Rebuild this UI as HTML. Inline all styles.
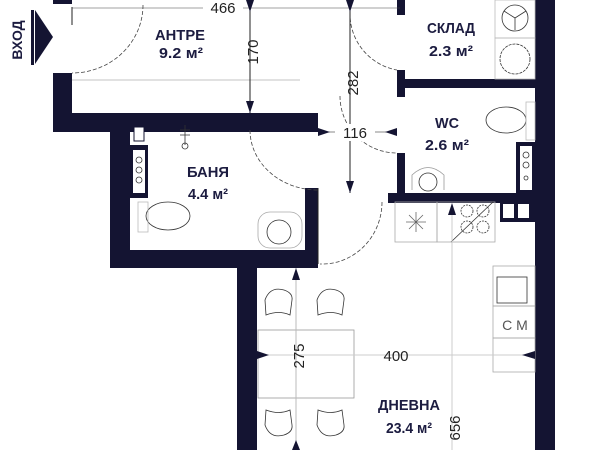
<!DOCTYPE html><html><head><style>html,body{margin:0;padding:0;background:#fff;}svg{display:block}</style></head><body>
<svg width="600" height="450" viewBox="0 0 600 450" xmlns="http://www.w3.org/2000/svg" font-family="Liberation Sans, sans-serif">
<g fill="#141432">
<rect x="53" y="0" width="19" height="4"/>
<rect x="53" y="73" width="19" height="59"/>
<rect x="53" y="113" width="265" height="19"/>
<rect x="110" y="113" width="20" height="155"/>
<rect x="110" y="250" width="208" height="18"/>
<rect x="305" y="188" width="13" height="80"/>
<rect x="237" y="250" width="20" height="200"/>
<rect x="397" y="0" width="8" height="15"/>
<rect x="397" y="70" width="8" height="27"/>
<rect x="397" y="79" width="140" height="9"/>
<rect x="397" y="153" width="8" height="48"/>
<rect x="388" y="193" width="149" height="10"/>
<rect x="535" y="0" width="20" height="450"/>
<rect x="130" y="145" width="18" height="53"/>
<rect x="516" y="142" width="20" height="52"/>
<rect x="500" y="200" width="35" height="22"/>
<polygon points="35,10 53,37 35,64"/>
<rect x="31" y="10" width="3" height="55"/>
</g>
<g fill="#fff">
<rect x="134" y="127" width="10" height="14" stroke="#141432" stroke-width="1"/>
<rect x="133" y="150" width="12" height="43"/>
<rect x="520" y="146" width="12" height="44"/>
<rect x="503" y="204" width="11" height="14"/><rect x="518" y="204" width="11" height="14"/>
</g>
<g fill="none" stroke="#333" stroke-width="0.8">
<circle cx="139" cy="160" r="3"/><circle cx="139" cy="170" r="3"/><circle cx="139" cy="180" r="3"/>
<circle cx="526" cy="155" r="3"/><circle cx="526" cy="165" r="3"/><circle cx="526" cy="178" r="2"/>
<rect x="495" y="0" width="40" height="38" stroke="#bbb"/><rect x="495" y="38" width="40" height="41" stroke="#bbb"/>
<circle cx="515" cy="18" r="13"/><path d="M515,18 L515,30 M515,18 L504,11 M515,18 L526,11"/>
<circle cx="515" cy="59" r="15" stroke-dasharray="3 1"/>
<ellipse cx="506" cy="120" rx="20" ry="13"/><rect x="526" y="102" width="9" height="38" stroke="#bbb"/>
<path d="M412,190 L412,175 Q428,160 444,175 L444,190" stroke="#999"/><circle cx="428" cy="182" r="9"/>
<ellipse cx="168" cy="216" rx="22" ry="14"/><rect x="138" y="202" width="10" height="30" stroke="#bbb"/>
<rect x="258" y="212" width="44" height="36" rx="12" stroke="#aaa"/><circle cx="279" cy="232" r="12"/>
<path d="M185,125 L185,145 M180,130 L190,130 M180,135 L190,135"/><circle cx="185" cy="146" r="3"/>
<rect x="395" y="202" width="42" height="40" stroke="#aaa"/><rect x="437" y="202" width="58" height="40" stroke="#aaa"/>
<path d="M416,212 L416,232 M406,222 L426,222 M409,215 L423,229 M423,215 L409,229" stroke="#666"/>
<circle cx="467" cy="211" r="6" stroke-dasharray="2 1"/><circle cx="483" cy="211" r="6" stroke-dasharray="2 1"/><circle cx="467" cy="227" r="6" stroke-dasharray="2 1"/><circle cx="483" cy="227" r="6" stroke-dasharray="2 1"/>
<path d="M451,242 L493,202"/>
<rect x="493" y="266" width="42" height="40" stroke="#aaa"/><rect x="497" y="277" width="30" height="26"/>
<rect x="493" y="306" width="42" height="32" stroke="#aaa"/><rect x="493" y="338" width="42" height="34" stroke="#aaa"/>
<rect x="258" y="330" width="96" height="68" stroke="#999"/>
<path d="M266,315 L265,300 Q270,286 284,290 Q293,293 292,300 L290,315 Q279,310 266,315 Z"/>
<path d="M318,315 L317,300 Q322,286 336,290 Q345,293 344,300 L342,315 Q331,310 318,315 Z"/>
<path d="M266,410 L265,425 Q270,439 284,435 Q293,432 292,425 L290,410 Q279,415 266,410 Z"/>
<path d="M318,410 L317,425 Q322,439 336,435 Q345,432 344,425 L342,410 Q331,415 318,410 Z"/>
</g>
<g fill="none" stroke="#444" stroke-width="0.8" stroke-dasharray="4 2">
<path d="M143,5 A71,68 0 0 1 72,73"/>
<path d="M350,12 A57,57 0 0 0 397,70"/>
<path d="M340,96 A57,57 0 0 0 397,153"/>
<path d="M250,130 A68,60 0 0 0 318,190"/>
<path d="M382,202 A60,62 0 0 1 320,264"/>
</g>
<g stroke="#222" stroke-width="1" fill="none">
<path d="M72,7 L72,25"/><path d="M318,188 L318,264"/>
<line x1="72" y1="80" x2="300" y2="80" stroke="#888" stroke-width="0.6"/>
<line x1="250" y1="0" x2="250" y2="113"/>
<line x1="350" y1="0" x2="350" y2="193"/>
<line x1="318" y1="132" x2="397" y2="132" stroke="#888"/>
<line x1="296" y1="268" x2="296" y2="450" stroke="#bbb"/>
<line x1="257" y1="355" x2="535" y2="355" stroke="#ccc"/>
<line x1="452" y1="205" x2="452" y2="450" stroke="#ccc"/>
<line x1="72" y1="8" x2="400" y2="8" stroke="#444" stroke-width="0.6"/>
</g>
<g fill="#141432">
<polygon points="246,0 254,0 250,12"/><polygon points="246,101 254,101 250,113"/>
<polygon points="346,0 354,0 350,12"/><polygon points="346,181 354,181 350,193"/>
<polygon points="318,128 318,136 330,132"/><polygon points="397,128 397,136 385,132"/>
<polygon points="292,280 300,280 296,268"/><polygon points="292,450 300,450 296,440"/>
<polygon points="257,351 257,359 269,355"/><polygon points="535,351 535,359 522,355"/>
<polygon points="448,215 456,215 452,203"/>
</g>
<g fill="#1c1c40" font-weight="bold" font-size="15" text-anchor="middle">
<text x="180" y="40" textLength="50" lengthAdjust="spacingAndGlyphs">АНТРЕ</text><text x="181" y="58" textLength="44" lengthAdjust="spacingAndGlyphs">9.2 м²</text>
<text x="451" y="33" textLength="48" lengthAdjust="spacingAndGlyphs">СКЛАД</text><text x="451" y="56" textLength="44" lengthAdjust="spacingAndGlyphs">2.3 м²</text>
<text x="447" y="128" textLength="24" lengthAdjust="spacingAndGlyphs">WC</text><text x="447" y="150" textLength="44" lengthAdjust="spacingAndGlyphs">2.6 м²</text>
<text x="208" y="177" textLength="42" lengthAdjust="spacingAndGlyphs">БАНЯ</text><text x="208" y="199" textLength="40" lengthAdjust="spacingAndGlyphs">4.4 м²</text>
<text x="409" y="410" textLength="62" lengthAdjust="spacingAndGlyphs">ДНЕВНА</text><text x="409" y="433" textLength="46" lengthAdjust="spacingAndGlyphs">23.4 м²</text>
<text transform="translate(22,40) rotate(-90)" font-size="14">ВХОД</text>
</g>
<g fill="#222" font-size="15" text-anchor="middle">
<rect x="203" y="0" width="40" height="16" fill="#fff"/>
<text x="223" y="13">466</text>
<text transform="translate(258,52) rotate(-90)">170</text>
<text transform="translate(358,83) rotate(-90)">282</text>
<rect x="335" y="124" width="40" height="17" fill="#fff"/><text x="355" y="138">116</text>
<text transform="translate(304,356) rotate(-90)">275</text>
<text x="396" y="361">400</text>
<text transform="translate(460,428) rotate(-90)">656</text>
<text x="515" y="330" fill="#555" font-size="14">C M</text>
</g>
</svg>
</body></html>
